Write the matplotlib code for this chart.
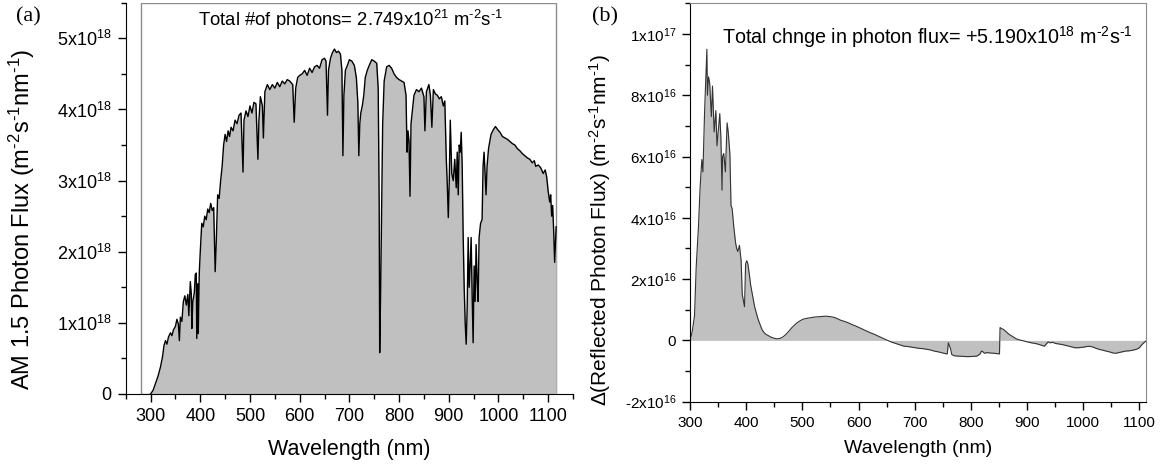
import numpy as np
import matplotlib
matplotlib.use('Agg')
import matplotlib.pyplot as plt
from matplotlib.patches import Rectangle
from matplotlib.ticker import MultipleLocator, FuncFormatter

plt.rcParams['font.family'] = ['Liberation Sans', 'DejaVu Sans']
plt.rcParams['mathtext.fontset'] = 'custom'
plt.rcParams['mathtext.rm'] = 'Liberation Sans'
plt.rcParams['mathtext.it'] = 'Liberation Sans:italic'
plt.rcParams['mathtext.default'] = 'regular'

# (a) AM 1.5 photon flux, wavelength in nm, flux in 1e18 m^-2 s^-1 nm^-1
am_wl = [300, 305, 310, 315, 320, 324, 327, 330, 333, 336, 340, 343, 346, 350, 353, 356, 358, 360, 363, 366,
         369, 372, 375, 377, 380, 382, 383, 385, 388, 390, 392, 393, 395, 396, 398, 400, 403, 406, 409, 412,
         415, 418, 421, 424, 427, 430, 432, 435, 438, 441, 444, 447, 450, 453, 456, 459, 462, 466, 470, 474,
         478, 482, 486, 488, 492, 496, 500, 504, 508, 512, 516, 518, 521, 525, 527, 530, 535, 540, 545, 550,
         555, 560, 565, 570, 575, 580, 586, 589, 592, 596, 600, 605, 610, 615, 620, 625, 630, 635, 640, 645,
         650, 653, 656, 658, 662, 666, 670, 674, 678, 682, 685, 687, 689, 692, 696, 700, 705, 710, 714, 717,
         719, 721, 723, 726, 729, 732, 736, 740, 745, 750, 755, 758, 760, 761, 763, 765, 767, 770, 775, 780,
         785, 790, 795, 800, 805, 810, 814, 816, 818, 820, 822, 824, 827, 830, 835, 840, 845, 850, 852, 855,
         860, 863, 866, 869, 873, 877, 881, 885, 889, 892, 895, 897, 899, 901, 903, 906, 909, 912, 915, 917,
         919, 921, 923, 925, 927, 929, 931, 933, 935, 937, 939, 941, 943, 945, 947, 949, 951, 953, 955, 957,
         959, 961, 964, 967, 969, 971, 973, 975, 977, 980, 985, 990, 994, 998, 1003, 1008, 1013, 1018, 1023, 1028,
         1033, 1038, 1043, 1048, 1053, 1058, 1063, 1068, 1072, 1075, 1080, 1085, 1090, 1094, 1097, 1100, 1103, 1105, 1107, 1109,
         1111, 1113, 1115, 1116]
am_flux = [0.00, 0.05, 0.15, 0.25, 0.38, 0.52, 0.68, 0.75, 0.70, 0.80, 0.86, 0.82, 0.90, 0.95, 1.05, 0.98, 0.75, 1.08, 1.02, 1.30,
           1.38, 1.25, 1.40, 1.10, 1.58, 1.40, 0.92, 1.30, 1.42, 1.68, 1.70, 0.78, 1.55, 0.85, 1.70, 2.00, 2.40, 2.35, 2.50, 2.45,
           2.60, 2.55, 2.68, 2.58, 2.62, 1.72, 2.10, 2.80, 2.75, 3.00, 3.20, 3.50, 3.65, 3.55, 3.70, 3.62, 3.75, 3.70, 3.85, 3.80,
           3.92, 3.95, 3.12, 3.85, 3.98, 3.90, 4.05, 3.95, 4.10, 4.08, 3.30, 3.85, 4.18, 4.05, 3.60, 4.25, 4.35, 4.28, 4.35, 4.30,
           4.38, 4.32, 4.40, 4.36, 4.42, 4.40, 4.35, 3.82, 4.30, 4.45, 4.48, 4.50, 4.55, 4.48, 4.58, 4.52, 4.60, 4.62, 4.58, 4.70,
           4.72, 4.68, 3.92, 4.55, 4.72, 4.80, 4.85, 4.80, 4.82, 4.78, 4.55, 3.35, 4.20, 4.55, 4.62, 4.70, 4.68, 4.62, 4.45, 4.10,
           3.35, 3.80, 3.95, 4.05, 4.20, 4.45, 4.55, 4.62, 4.70, 4.68, 4.65, 4.30, 2.65, 0.58, 1.50, 2.60, 3.80, 4.40, 4.60, 4.62,
           4.58, 4.50, 4.45, 4.42, 4.40, 4.38, 4.20, 3.40, 3.70, 3.55, 2.78, 3.80, 4.00, 4.20, 4.28, 4.25, 4.30, 4.18, 3.70, 4.25,
           4.35, 4.20, 3.75, 4.28, 4.22, 4.20, 4.15, 4.18, 4.05, 4.12, 3.30, 2.95, 2.48, 3.00, 3.85, 3.10, 3.00, 3.30, 2.90, 3.40,
           2.80, 3.50, 3.40, 3.68, 3.20, 2.20, 1.50, 1.00, 0.70, 1.20, 2.20, 1.50, 1.80, 2.20, 1.40, 0.72, 1.80, 1.30, 2.10, 1.60,
           1.30, 2.20, 2.40, 2.45, 3.20, 3.40, 3.10, 2.80, 3.20, 3.45, 3.65, 3.72, 3.76, 3.72, 3.68, 3.62, 3.60, 3.58, 3.55, 3.52,
           3.50, 3.45, 3.42, 3.38, 3.35, 3.32, 3.30, 3.25, 3.28, 3.20, 3.22, 3.18, 3.10, 3.15, 3.05, 2.85, 2.70, 2.80, 2.50, 2.65,
           2.30, 1.85, 2.20, 2.35]

# (b) change in reflected photon flux, in 1e16 m^-2 s^-1 nm^-1
d_wl = [300, 304, 308, 311, 315, 318, 321, 323, 326, 328, 330, 331, 333, 335, 338, 340, 343, 346, 348, 351,
        353, 355, 357, 358, 360, 363, 366, 368, 371, 373, 375, 378, 381, 383, 385, 388, 391, 393, 395, 397,
        399, 401, 403, 406, 408, 412, 415, 418, 421, 425, 428, 432, 435, 440, 445, 450, 455, 461, 466, 471,
        476, 481, 486, 491, 496, 501, 508, 515, 521, 528, 535, 541, 548, 555, 561, 568, 575, 581, 588, 595,
        601, 608, 615, 621, 628, 635, 641, 648, 653, 658, 663, 668, 675, 681, 688, 695, 701, 708, 715, 721,
        728, 735, 741, 748, 754, 758, 760, 762, 764, 766, 770, 775, 785, 795, 805, 811, 816, 819, 821, 824,
        828, 835, 841, 846, 851, 852, 855, 858, 863, 868, 875, 881, 888, 895, 901, 908, 915, 921, 926, 931,
        935, 938, 941, 945, 951, 958, 964, 968, 975, 981, 985, 991, 996, 1001, 1006, 1011, 1018, 1023, 1028, 1035,
        1041, 1048, 1053, 1058, 1063, 1068, 1075, 1082, 1088, 1095, 1100, 1105, 1109, 1112]
d_flux = [0.0, 0.3, 0.8, 2.4, 3.7, 5.0, 5.9, 5.5, 7.5, 8.5, 9.5, 8.0, 8.6, 8.4, 7.3, 8.3, 6.8, 7.5, 6.35, 7.0,
          7.4, 6.6, 4.9, 6.0, 6.1, 5.5, 7.1, 6.8, 6.1, 4.4, 4.3, 3.7, 3.2, 3.0, 2.9, 3.1, 2.6, 1.5, 1.3, 1.1,
          2.5, 2.6, 2.5, 2.1, 1.8, 1.4, 1.1, 0.9, 0.7, 0.5, 0.36, 0.25, 0.2, 0.15, 0.1, 0.07, 0.05, 0.07, 0.12, 0.2,
          0.3, 0.41, 0.5, 0.58, 0.64, 0.69, 0.72, 0.74, 0.76, 0.77, 0.78, 0.79, 0.78, 0.76, 0.72, 0.66, 0.62, 0.58, 0.52, 0.47,
          0.42, 0.36, 0.30, 0.25, 0.20, 0.14, 0.09, 0.03, -0.01, -0.05, -0.08, -0.11, -0.15, -0.19, -0.20, -0.22, -0.24, -0.26, -0.27, -0.29,
          -0.31, -0.35, -0.37, -0.40, -0.43, -0.44, -0.08, -0.18, -0.28, -0.46, -0.50, -0.51, -0.52, -0.53, -0.52, -0.51, -0.45, -0.35, -0.36, -0.42,
          -0.40, -0.41, -0.42, -0.43, -0.44, 0.42, 0.38, 0.36, 0.28, 0.20, 0.12, 0.05, 0.01, -0.02, -0.05, -0.08, -0.10, -0.13, -0.16, -0.19,
          -0.10, -0.05, -0.08, -0.06, -0.10, -0.12, -0.14, -0.16, -0.19, -0.22, -0.24, -0.24, -0.23, -0.22, -0.20, -0.19, -0.22, -0.26, -0.29, -0.32,
          -0.35, -0.38, -0.41, -0.42, -0.40, -0.38, -0.35, -0.34, -0.32, -0.29, -0.24, -0.13, -0.06, -0.02]

# short hyphen (U+2010) in the exponents, like the original
title_a = 'Total #of photons= 2.749x10$^{21}$ m$^{‐2}$s$^{‐1}$'
title_b = 'Total chnge in photon flux= +5.190x10$^{18}$ m$^{‐2}$s$^{‐1}$'
unit = '(m$^{‐2}$s$^{‐1}$nm$^{‐1}$)'


def sci_label(v, pos):
    if abs(v) < 1e-3:
        return '0'
    exp = int(np.floor(np.log10(abs(v)) + 1e-9))
    mant = int(round(v / 10 ** exp))
    return '%dx10$^{%d}$' % (mant, exp)


def style_ticks(ax, size):
    ax.tick_params(which='major', direction='out', length=6, width=1, labelsize=size, pad=4)
    ax.tick_params(which='minor', direction='out', length=3.5, width=1)
    ax.yaxis.set_major_formatter(FuncFormatter(sci_label))


fig = plt.figure(figsize=(11.64, 4.69), dpi=100)

# ---- panel (a)
ax1 = fig.add_axes([0.108, 0.16, 0.3843, 0.834])
x = np.array(am_wl)
y = np.array(am_flux) * 1e18
ax1.fill_between(x, y, 0, color='#c0c0c0', linewidth=0)
ax1.plot(x, y, color='black', linewidth=1.0)
ax1.add_patch(Rectangle((280, 0), 836, 5.5e18, fill=False, edgecolor='#8c8c8c', linewidth=1.0, zorder=0.5))
ax1.set_xlim(250, 1150)
ax1.set_ylim(0, 5.5e18)
ax1.xaxis.set_minor_locator(MultipleLocator(50))
ax1.yaxis.set_major_locator(MultipleLocator(1e18))
ax1.yaxis.set_minor_locator(MultipleLocator(0.5e18))
ax1.set_xticks(np.arange(300, 1101, 100))
style_ticks(ax1, 13)
ax1.spines['top'].set_visible(False)
ax1.spines['right'].set_visible(False)
ax1.set_xlabel('Wavelength (nm)', fontsize=15.5)
ax1.set_ylabel('AM 1.5 Photon Flux ' + unit, fontsize=17)
ax1.xaxis.set_label_coords(0.5, -0.115)
ax1.yaxis.set_label_coords(-0.198, 0.447)
ax1.text(0.162, 0.955, title_a, transform=ax1.transAxes, fontsize=13.3, va='center')
fig.text(0.014, 0.963, '(a)', family='Liberation Serif', fontsize=16, va='center')

# ---- panel (b)
ax2 = fig.add_axes([0.5928, 0.1435, 0.3918, 0.8495])
x2 = np.array(d_wl)
y2 = np.array(d_flux) * 1e16
ax2.fill_between(x2, y2, 0, color='#c0c0c0', linewidth=0)
ax2.plot(x2, y2, color='#333333', linewidth=0.8)
ax2.set_xlim(300, 1112)
ax2.set_ylim(-2e16, 1.1e17)
ax2.xaxis.set_major_locator(MultipleLocator(100))
ax2.xaxis.set_minor_locator(MultipleLocator(50))
ax2.yaxis.set_major_locator(MultipleLocator(2e16))
ax2.yaxis.set_minor_locator(MultipleLocator(1e16))
style_ticks(ax2, 11)
for s in ['top', 'right']:
    ax2.spines[s].set_color('#8c8c8c')
ax2.set_xlabel('Wavelength (nm)', fontsize=14)
ax2.set_ylabel(r'$\mathit{Δ}$(Reflected Photon Flux) ' + unit, fontsize=15)
ax2.xaxis.set_label_coords(0.5, -0.095)
ax2.yaxis.set_label_coords(-0.169, 0.43)
ax2.text(0.07, 0.915, title_b, transform=ax2.transAxes, fontsize=14.2, va='center')
fig.text(0.509, 0.963, '(b)', family='Liberation Serif', fontsize=16, va='center')

fig.savefig('out.png', dpi=100)
